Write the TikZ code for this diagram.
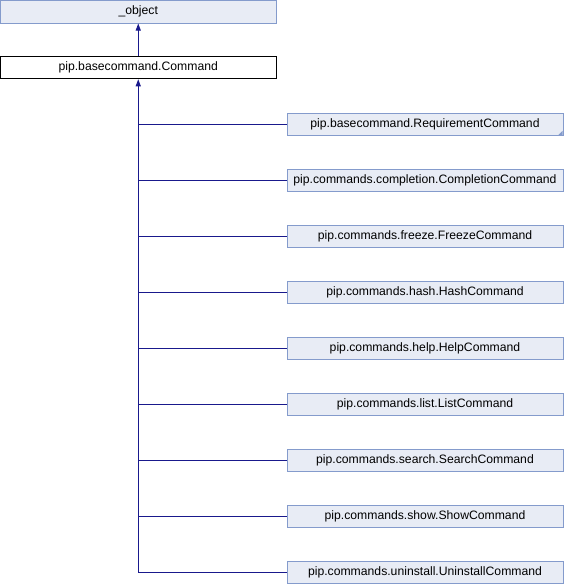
\documentclass[tikz,border=0pt]{standalone}
\usepackage{fontspec}
\setmainfont{Liberation Sans}
\usetikzlibrary{arrows.meta,calc}
\definecolor{boxfill}{RGB}{232,236,245}
\definecolor{boxdraw}{RGB}{132,155,204}
\definecolor{edgecol}{RGB}{25,25,140}
\begin{document}
\begin{tikzpicture}[x=1pt,y=-1pt,
  cls/.style={draw=boxdraw,fill=boxfill,line width=1pt,minimum width=276pt,minimum height=22.5pt,inner sep=0pt,font=\fontsize{12.2}{13}\selectfont},
  cur/.style={cls,draw=black,fill=white},
  inh/.style={draw=edgecol,line width=1pt},
  inha/.style={inh,-{Triangle[width=5pt,length=7pt]}}]
\useasboundingbox (0,0) rectangle (564,584);
\node[cls] (obj) at (138.25,11.75) {\_object};
\node[cur] (cmd) at (138.25,67.5) {pip.basecommand.Command};
\foreach \n/\t [count=\i from 0] in {req/pip.basecommand.RequirementCommand,
  comp/pip.commands.completion.CompletionCommand,
  frz/pip.commands.freeze.FreezeCommand,
  hsh/pip.commands.hash.HashCommand,
  hlp/pip.commands.help.HelpCommand,
  lst/pip.commands.list.ListCommand,
  srch/pip.commands.search.SearchCommand,
  shw/pip.commands.show.ShowCommand,
  uni/pip.commands.uninstall.UninstallCommand}{
  \node[cls] (\n) at (425,124.5+56*\i) {\t};
}
\fill[boxdraw] ($(req.south east)+(-1,-0.5)$) -- ++(0,-5) -- ++(-5,5) -- cycle;
\draw[inha] (cmd.north) -- (obj.south);
\coordinate (bend) at (cmd.south |- uni.west);
\draw[inh] (bend) -- (uni.west);
\draw[inha] (bend) -- (cmd.south);
\foreach \n in {req,comp,frz,hsh,hlp,lst,srch,shw}{
  \draw[inh] (cmd.south |- \n.west) -- (\n.west);
}
\end{tikzpicture}
\end{document}
